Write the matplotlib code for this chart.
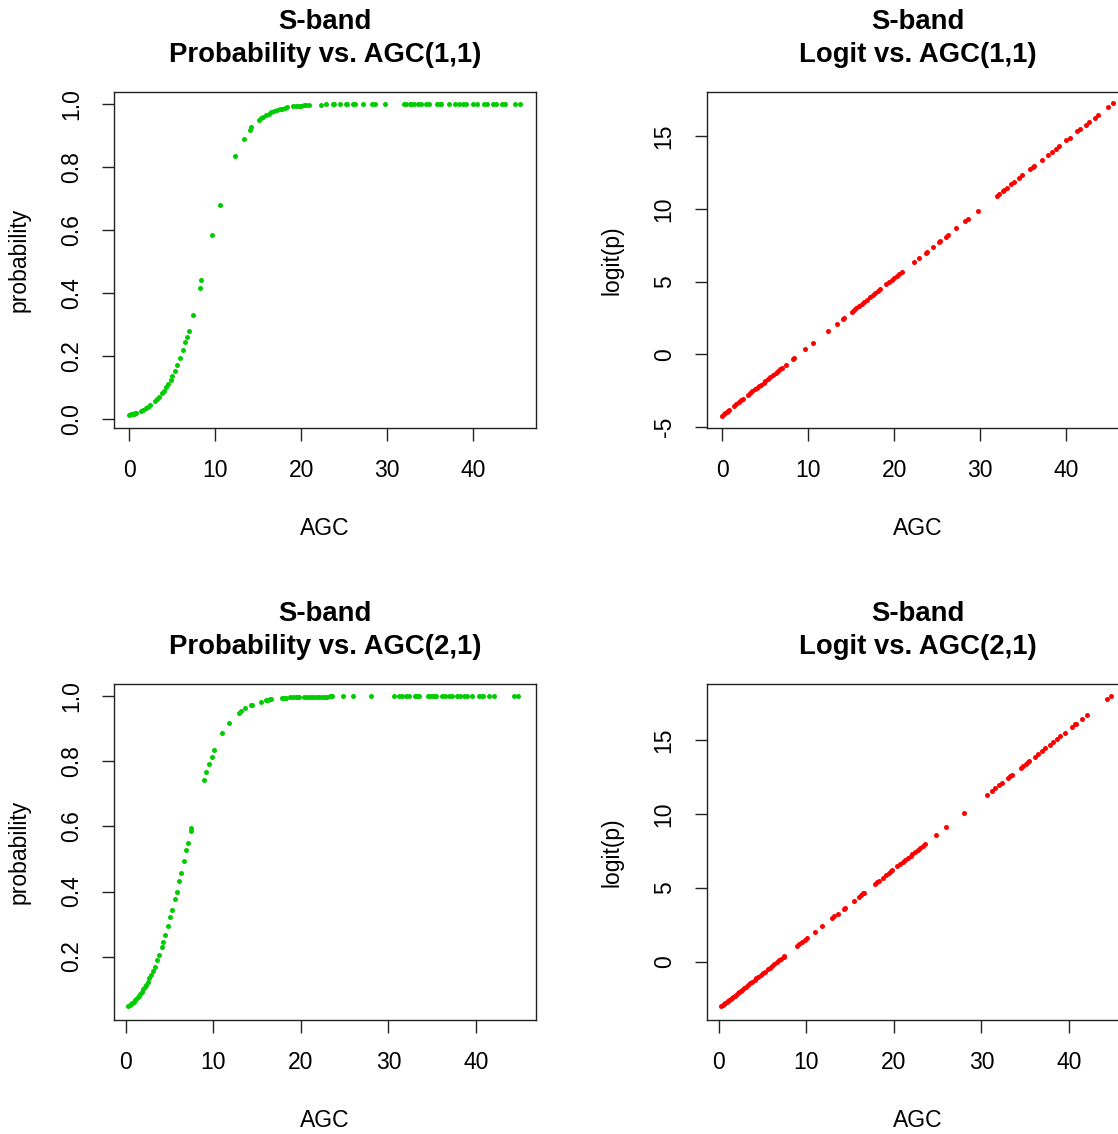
import numpy as np
import matplotlib
matplotlib.use("Agg")
import matplotlib.pyplot as plt

plt.rcParams['font.family'] = ['Liberation Sans', 'DejaVu Sans']

# AGC(1,1): AGC values and logit(p)
agc_11 = [0.0, 0.2, 0.35, 0.5, 0.7, 0.8, 1.4, 1.6, 1.9, 2.2, 2.4, 3.0, 3.2, 3.5,
          3.8, 4.0, 4.3, 4.5, 4.8, 5.0, 5.3, 5.6, 5.9, 6.2, 6.5, 6.7, 6.9, 7.4,
          8.2, 8.4, 9.6, 10.5, 12.3, 13.3, 14.0, 14.2, 15.1, 15.3, 15.6, 15.9,
          16.2, 16.5, 16.8, 17.2, 17.5, 17.8, 18.1, 18.4, 19.1, 19.4, 19.7, 20.0,
          20.3, 20.6, 20.9, 22.3, 22.9, 23.7, 23.8, 24.5, 25.2, 25.3, 26.0, 26.2,
          27.2, 28.2, 28.6, 29.7, 31.9, 32.2, 32.6, 32.8, 33.1, 33.6, 33.9, 34.5,
          34.9, 35.8, 36.1, 36.3, 37.2, 37.9, 38.3, 38.8, 39.2, 40.0, 40.4, 41.3,
          41.6, 42.3, 42.6, 43.3, 43.7, 44.8, 45.4]
logit_11 = [-4.21, -4.12, -4.04, -3.97, -3.88, -3.83, -3.55, -3.45, -3.31, -3.17,
            -3.07, -2.79, -2.69, -2.55, -2.41, -2.32, -2.17, -2.08, -1.94, -1.84,
            -1.70, -1.56, -1.42, -1.27, -1.13, -1.04, -0.94, -0.71, -0.33, -0.23,
            0.34, 0.76, 1.62, 2.09, 2.42, 2.52, 2.94, 3.04, 3.18, 3.32, 3.46, 3.60,
            3.75, 3.94, 4.08, 4.22, 4.36, 4.50, 4.84, 4.98, 5.12, 5.26, 5.40, 5.55,
            5.69, 6.35, 6.64, 7.01, 7.06, 7.39, 7.72, 7.77, 8.10, 8.20, 8.67, 9.15,
            9.34, 9.86, 10.90, 11.04, 11.23, 11.32, 11.47, 11.70, 11.85, 12.13,
            12.32, 12.75, 12.89, 12.98, 13.41, 13.74, 13.93, 14.17, 14.36, 14.73,
            14.92, 15.35, 15.49, 15.82, 15.97, 16.30, 16.49, 17.01, 17.29]

# AGC(2,1)
agc_21 = [0.3, 0.45, 0.6, 0.75, 0.9, 1.05, 1.2, 1.35, 1.5, 1.65, 1.8, 2.0, 2.15,
          2.3, 2.5, 2.7, 2.9, 3.1, 3.3, 3.6, 3.8, 4.1, 4.3, 4.5, 4.8, 5.1, 5.3,
          5.6, 5.8, 6.1, 6.3, 6.6, 6.9, 7.1, 7.4, 7.5, 8.9, 9.2, 9.5, 9.8, 10.1,
          11.0, 11.8, 12.9, 13.2, 13.6, 14.3, 14.4, 15.4, 16.0, 16.3, 16.5, 16.6,
          17.8, 18.1, 18.3, 18.7, 19.1, 19.4, 19.7, 19.8, 20.4, 20.7, 21.0, 21.3,
          21.6, 21.9, 22.1, 22.4, 22.7, 23.0, 23.3, 23.6, 24.8, 26.0, 28.0, 30.6,
          31.2, 31.6, 32.0, 32.3, 33.0, 33.3, 33.5, 34.5, 34.8, 35.1, 35.3, 35.4,
          36.1, 36.5, 36.9, 37.3, 37.8, 38.2, 38.6, 39.0, 39.5, 40.3, 40.7, 40.8,
          41.5, 42.1, 44.3, 44.8]
logit_21 = [-3.01, -2.94, -2.87, -2.80, -2.72, -2.65, -2.58, -2.51, -2.44, -2.37,
            -2.30, -2.21, -2.13, -2.06, -1.97, -1.87, -1.78, -1.69, -1.59, -1.45,
            -1.35, -1.21, -1.12, -1.02, -0.88, -0.74, -0.65, -0.50, -0.41, -0.27,
            -0.17, -0.03, 0.11, 0.20, 0.35, 0.39, 1.06, 1.20, 1.34, 1.48, 1.62,
            2.05, 2.43, 2.95, 3.09, 3.28, 3.61, 3.65, 4.13, 4.41, 4.55, 4.65, 4.69,
            5.26, 5.40, 5.50, 5.69, 5.87, 6.02, 6.16, 6.21, 6.49, 6.63, 6.77, 6.91,
            7.06, 7.20, 7.29, 7.43, 7.58, 7.72, 7.86, 8.00, 8.57, 9.14, 10.08,
            11.31, 11.59, 11.78, 11.97, 12.11, 12.44, 12.58, 12.68, 13.15, 13.29,
            13.43, 13.53, 13.58, 13.91, 14.10, 14.29, 14.47, 14.71, 14.90, 15.09,
            15.28, 15.51, 15.89, 16.08, 16.13, 16.46, 16.74, 17.78, 18.02]

GREEN = '#00CD00'
RED = '#FF0000'
W, H = 1118, 1134


def box(x0, y0, x1, y1):
    # pixel box (from top-left) -> figure fraction
    return [x0 / W, 1 - y1 / H, (x1 - x0) / W, (y1 - y0) / H]


def style(ax, title, ylabel):
    ax.set_title(title, fontsize=19.8, fontweight='bold', pad=21.5, linespacing=1.36)
    ax.set_xlabel('AGC', fontsize=16.5)
    ax.set_ylabel(ylabel, fontsize=16.5)
    ax.xaxis.set_label_coords(0.5, -0.265)
    ax.yaxis.set_label_coords(-0.197, 0.5)
    ax.tick_params(length=9, width=1.0, pad=13.5, labelsize=16.5, color='#222222')
    for s in ax.spines.values():
        s.set_linewidth(1.0)
        s.set_color('#222222')
    plt.setp(ax.get_yticklabels(), rotation=90, va='center')


def main():
    fig = plt.figure(figsize=(W / 100, H / 100), dpi=100)

    panels = [
        (agc_11, logit_11, '(1,1)', 92, 428, (-1.77, 47.3)),
        (agc_21, logit_21, '(2,1)', 684, 1020, (-1.35, 46.86)),
    ]
    for agc, logit, tag, top, bot, xlim in panels:
        agc = np.array(agc)
        logit = np.array(logit)
        prob = 1 / (1 + np.exp(-logit))

        axp = fig.add_axes(box(114, top, 536, bot))
        axp.plot(agc, prob, 'o', color=GREEN, ms=3.6, mew=0)
        axp.set_xlim(*xlim)
        axp.set_xticks([0, 10, 20, 30, 40])
        if tag == '(1,1)':
            axp.set_ylim(-0.027, 1.038)
            yt = [0.0, 0.2, 0.4, 0.6, 0.8, 1.0]
        else:
            axp.set_ylim(0.005, 1.038)
            yt = [0.2, 0.4, 0.6, 0.8, 1.0]
        axp.set_yticks(yt)
        axp.set_yticklabels(['%.1f' % v for v in yt])
        style(axp, 'S-band\nProbability vs. AGC' + tag, 'probability')

        axl = fig.add_axes(box(707, top, 1129, bot))
        axl.plot(agc, logit, 'o', color=RED, ms=3.6, mew=0)
        axl.set_xlim(*xlim)
        axl.set_xticks([0, 10, 20, 30, 40])
        if tag == '(1,1)':
            axl.set_ylim(-5.07, 18.06)
            yt = [-5, 0, 5, 10, 15]
        else:
            axl.set_ylim(-3.93, 18.82)
            yt = [0, 5, 10, 15]
        axl.set_yticks(yt)
        axl.set_yticklabels([str(v) for v in yt])
        style(axl, 'S-band\nLogit vs. AGC' + tag, 'logit(p)')

    fig.savefig('out.png', dpi=100)


if __name__ == '__main__':
    main()
